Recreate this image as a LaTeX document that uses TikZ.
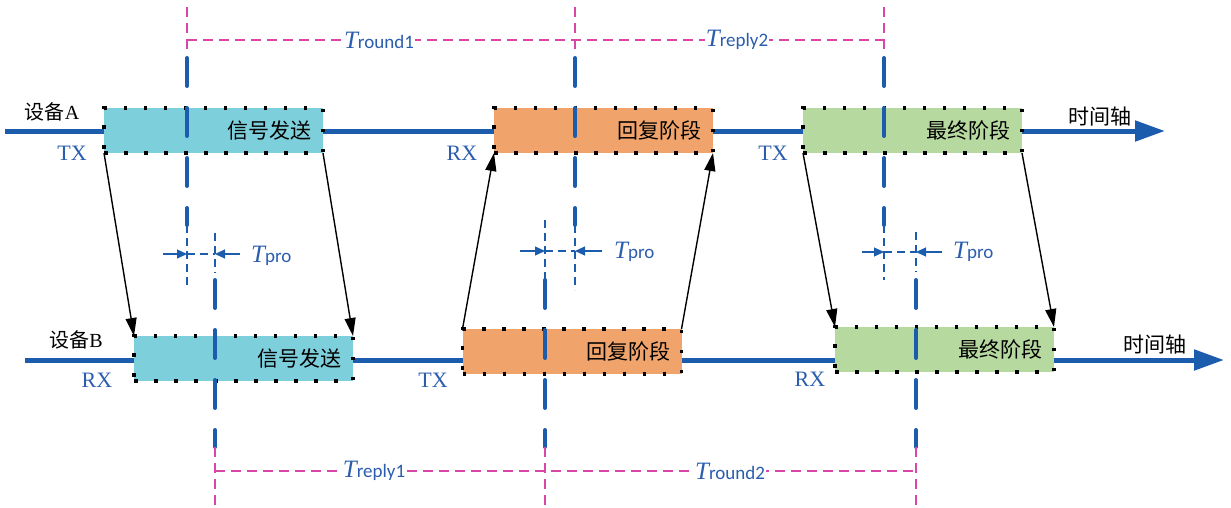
\documentclass[tikz,border=0pt]{standalone}
\usepackage{fontspec}
\setmainfont{Liberation Serif}
\newfontfamily\cjkfont{Noto Sans CJK SC}
\newfontfamily\calfont{Carlito}
\usetikzlibrary{arrows.meta}
\definecolor{lblue}{HTML}{1C5CAC}
\definecolor{tblue}{HTML}{2B5DAE}
\definecolor{mag}{HTML}{D846A8}
\definecolor{cyanfill}{HTML}{7DCFDB}
\definecolor{orangefill}{HTML}{F0A46C}
\definecolor{greenfill}{HTML}{B6D9A0}
\newcommand{\Tlab}[1]{{\fontsize{25pt}{28pt}\selectfont\itshape T}{\calfont\fontsize{19pt}{22pt}\selectfont #1}}
\begin{document}
\begin{tikzpicture}[x=1pt,y=-1pt,
  axisline/.style={line width=5pt, draw=lblue, -{Triangle[length=30pt,width=20pt]}},
  phasebox/.style={draw=black, line width=3.5pt, dash pattern=on 3.5pt off 16.5pt,
     minimum width=219pt, minimum height=45pt, inner sep=0pt, outer sep=0pt},
  phasetext/.style={font=\cjkfont\fontsize{21pt}{24pt}\selectfont, anchor=east, inner sep=0pt, xshift=-11pt},
  devlabel/.style={font=\fontsize{20pt}{24pt}\selectfont, inner sep=0pt},
  txrx/.style={font=\fontsize{22pt}{26pt}\selectfont, text=tblue, inner sep=0pt},
  axistext/.style={font=\cjkfont\fontsize{21pt}{24pt}\selectfont, inner sep=0pt},
  thickv/.style={draw=lblue, line width=4pt, line cap=round, dash pattern=on 28pt off 22pt},
  thinv/.style={draw=lblue, line width=1.2pt, dash pattern=on 8pt off 5pt},
  proarrow/.style={draw=lblue, line width=1.2pt, -{Triangle[length=10pt,width=9pt]}},
  dimline/.style={draw=mag, line width=1.2pt, dash pattern=on 10pt off 6pt},
  tlabel/.style={text=tblue, fill=white, inner sep=1pt},
  msg/.style={draw=black, line width=1.4pt, -{Triangle[length=18pt,width=11pt]}}
]
\useasboundingbox (0,0) rectangle (1231,507);

% axes
\coordinate (Astart) at (5,131);
\coordinate (Aend) at (1165,131);
\coordinate (Bstart) at (25,360);
\coordinate (Bend) at (1224,360);
\draw[axisline] (Astart) -- (Aend);
\draw[axisline] (Bstart) -- (Bend);

% boxes
\node[phasebox, fill=cyanfill] (A1) at (213.5,130.5) {};
\node[phasebox, fill=orangefill] (A2) at (603.5,130.5) {};
\node[phasebox, fill=greenfill] (A3) at (912.5,130.5) {};
\node[phasebox, fill=cyanfill] (B1) at (243.5,358.5) {};
\node[phasebox, fill=orangefill] (B2) at (572,351.5) {};
\node[phasebox, fill=greenfill] (B3) at (944.5,349.5) {};

\node[phasetext] (tA1) at (A1.east) {信号发送};
\node[phasetext] (tA2) at (A2.east) {回复阶段};
\node[phasetext] (tA3) at (A3.east) {最终阶段};
\node[phasetext] (tB1) at (B1.east) {信号发送};
\node[phasetext] (tB2) at (B2.east) {回复阶段};
\node[phasetext] (tB3) at (B3.east) {最终阶段};

% device labels
\node[devlabel] (devA) at (52,112) {{\cjkfont 设备}A};
\node[devlabel] (devB) at (76,340) {{\cjkfont 设备}B};
\node[txrx] (tx1) at (72,153) {TX};
\node[txrx] (rx1) at (97,380) {RX};
\node[txrx] (rx2) at (462,153) {RX};
\node[txrx] (tx2) at (433,380) {TX};
\node[txrx] (tx3) at (773,153) {TX};
\node[txrx] (rx3) at (810,379) {RX};
\node[axistext] (ax1) at (1100,117) {时间轴};
\node[axistext] (ax2) at (1155,345) {时间轴};

% vertical thick dashed lines
\foreach \n/\x in {a/187,b/575,c/884}{
  \coordinate (top\n) at (\x,58);
  \coordinate (mid\n) at (\x,225);
  \draw[thickv] (top\n) -- (mid\n);
}
\foreach \n/\x in {d/215,e/545,f/916}{
  \coordinate (mid\n) at (\x,280);
  \coordinate (bot\n) at (\x,447);
  \draw[thickv] (mid\n) -- (bot\n);
}

% thin dashed continuations
\coordinate (lowa) at (187,288);
\coordinate (upd) at (215,233);
\coordinate (lowd) at (215,273);
\draw[thinv] (mida) -- (lowa);
\draw[thinv] (upd) -- (lowd);
\coordinate (lowb) at (575,290);
\coordinate (upe) at (545,220);
\draw[thinv] (midb) -- (lowb);
\draw[thinv] (upe) -- (mide);
\coordinate (lowc) at (884,280);
\coordinate (upf) at (916,232);
\coordinate (lowf) at (916,272);
\draw[thinv] (midc) -- (lowc);
\draw[thinv] (upf) -- (lowf);

% Tpro groups
\coordinate (p1l) at (163,254);
\coordinate (p1a) at (187,254);
\coordinate (p1b) at (215,254);
\coordinate (p1r) at (240,254);
\draw[proarrow] (p1l) -- (p1a);
\draw[thinv] (p1a) -- (p1b);
\draw[proarrow] (p1r) -- (p1b);
\node[text=tblue, inner sep=0pt, anchor=west] (pro1) at (251,256) {\Tlab{pro}};

\coordinate (p2l) at (520,251);
\coordinate (p2a) at (545,251);
\coordinate (p2b) at (575,251);
\coordinate (p2r) at (602,251);
\draw[proarrow] (p2l) -- (p2a);
\draw[thinv] (p2a) -- (p2b);
\draw[proarrow] (p2r) -- (p2b);
\node[text=tblue, inner sep=0pt, anchor=west] (pro2) at (614,252) {\Tlab{pro}};

\coordinate (p3l) at (862,252);
\coordinate (p3a) at (884,252);
\coordinate (p3b) at (916,252);
\coordinate (p3r) at (942,252);
\draw[proarrow] (p3l) -- (p3a);
\draw[thinv] (p3a) -- (p3b);
\draw[proarrow] (p3r) -- (p3b);
\node[text=tblue, inner sep=0pt, anchor=west] (pro3) at (953,252) {\Tlab{pro}};

% magenta dimension lines, top
\foreach \n/\x in {ma/187,mb/575,mc/884}{
  \coordinate (t\n) at (\x,7);
  \coordinate (b\n) at (\x,52);
  \draw[dimline] (t\n) -- (b\n);
}
\coordinate (mh1) at (187,40);
\coordinate (mh2) at (884,40);
\draw[dimline] (mh1) -- (mh2);
\node[tlabel] (tr1) at (379,40) {\Tlab{round1}};
\node[tlabel] (tp2) at (737,40) {\Tlab{reply2}};

% magenta dimension lines, bottom
\foreach \n/\x in {md/215,me/545,mf/916}{
  \coordinate (t\n) at (\x,447);
  \coordinate (b\n) at (\x,507);
  \draw[dimline] (t\n) -- (b\n);
}
\coordinate (mh3) at (215,471);
\coordinate (mh4) at (916,471);
\draw[dimline] (mh3) -- (mh4);
\node[tlabel] (tp1) at (374,471) {\Tlab{reply1}};
\node[tlabel] (tr2) at (730,471) {\Tlab{round2}};

% message arrows
\draw[msg] (A1.south west) -- (B1.north west);
\draw[msg] (A1.south east) -- (B1.north east);
\draw[msg] (B2.north west) -- (A2.south west);
\draw[msg] (B2.north east) -- (A2.south east);
\draw[msg] (A3.south west) -- (B3.north west);
\draw[msg] (A3.south east) -- (B3.north east);
\end{tikzpicture}
\end{document}
